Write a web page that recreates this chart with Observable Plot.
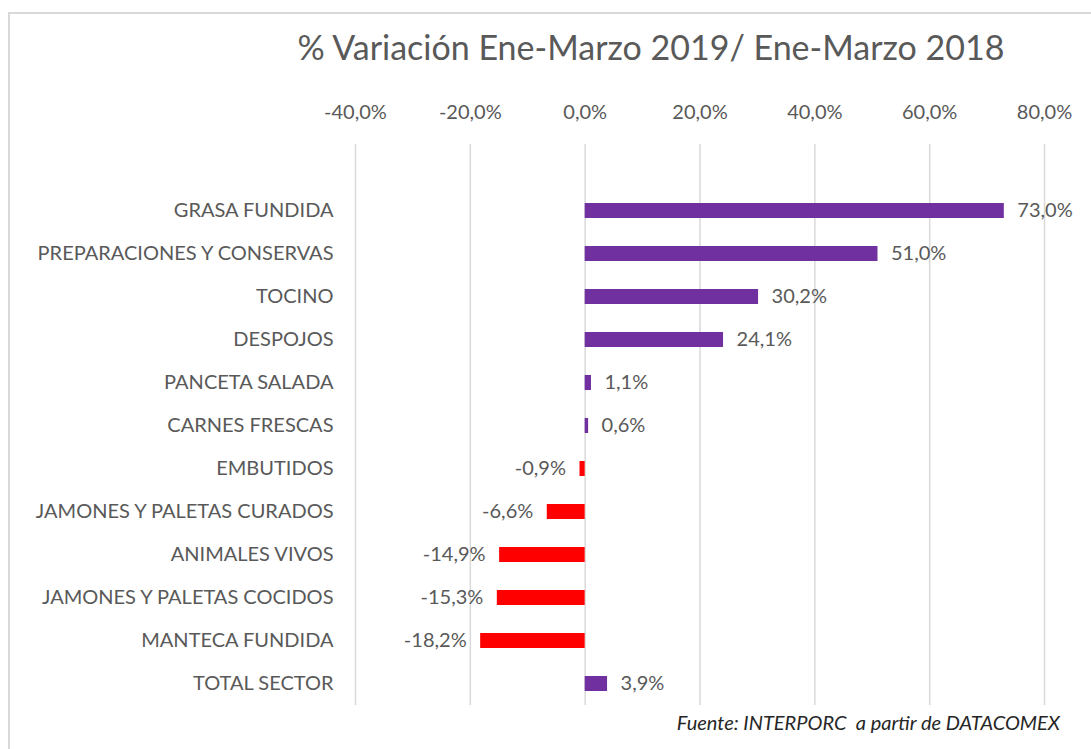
<!DOCTYPE html>
<html>
<head>
<meta charset="utf-8">
<script src="https://cdn.jsdelivr.net/npm/d3@7"></script>
<script src="https://cdn.jsdelivr.net/npm/@observablehq/plot@0.6"></script>
<style>
  html, body { margin: 0; padding: 0; background: #fff; }
  #wrap { position: relative; width: 1091px; height: 749px; overflow: hidden; font-family: Lato, "Open Sans", sans-serif; }
  #border { position: absolute; left: 8px; top: 12px; width: 1200px; height: 800px; border-left: 2.5px solid #d9d9d9; border-top: 2.5px solid #d9d9d9; }
  #title { position: absolute; top: 27px; left: 0; width: 1302px; text-align: center; font-size: 34px; line-height: 40px; color: #595959; white-space: nowrap; }
  #caption { position: absolute; top: 710px; right: 31px; font-size: 20px; line-height: 24px; font-style: italic; color: #262626; white-space: nowrap; }
  #chart { position: absolute; left: 0; top: 0; }
</style>
</head>
<body>
<div id="wrap">
  <div id="border"></div>
  <div id="chart"></div>
  <div id="title">% Variación Ene-Marzo 2019/ Ene-Marzo 2018</div>
  <div id="caption">Fuente: INTERPORC&nbsp; a partir de DATACOMEX</div>
</div>
<script>
const categories = [
  "GRASA FUNDIDA",
  "PREPARACIONES Y CONSERVAS",
  "TOCINO",
  "DESPOJOS",
  "PANCETA SALADA",
  "CARNES FRESCAS",
  "EMBUTIDOS",
  "JAMONES Y PALETAS CURADOS",
  "ANIMALES VIVOS",
  "JAMONES Y PALETAS COCIDOS",
  "MANTECA FUNDIDA",
  "TOTAL SECTOR"
];
const values = [73.0, 51.0, 30.2, 24.1, 1.1, 0.6, -0.9, -6.6, -14.9, -15.3, -18.2, 3.9];
const xTicks = [-40, -20, 0, 20, 40, 60, 80];

const data = categories.map((c, i) => ({ cat: c, v: values[i] }));
const fmt = d => d.toFixed(1).replace(".", ",") + "%";

const W = 1091, H = 749;
const chart = Plot.plot({
  width: W,
  height: H,
  marginTop: 144,
  marginBottom: 44,
  marginLeft: 355,
  marginRight: 47,
  style: { fontFamily: "Lato, 'Open Sans', sans-serif", fontSize: "20px", color: "#595959", background: "transparent", overflow: "visible" },
  x: {
    domain: [-40, 80],
    range: [355, 1044],
    ticks: xTicks,
    tickFormat: fmt,
    axis: "top",
    tickSize: 0,
    tickPadding: 26,
    grid: false,
    label: null
  },
  y: {
    domain: categories,
    range: [187.35, 706.65],
    paddingInner: 0.654,
    paddingOuter: 0.327,
    label: null,
    tickSize: 0,
    tickPadding: 22
  },
  marks: [
    Plot.ruleX(xTicks, { stroke: "#d9d9d9", strokeWidth: 1.5 }),
    Plot.barX(data, { x: "v", y: "cat", fill: d => d.v >= 0 ? "#7030A0" : "#FF0000" }),
    Plot.text(data.filter(d => d.v >= 0), { x: "v", y: "cat", text: d => fmt(d.v), textAnchor: "start", dx: 13, fill: "#595959", fontSize: 20 }),
    Plot.text(data.filter(d => d.v < 0), { x: "v", y: "cat", text: d => fmt(d.v), textAnchor: "end", dx: -14, fill: "#595959", fontSize: 20 })
  ]
});
document.getElementById("chart").appendChild(chart);
</script>
</body>
</html>
